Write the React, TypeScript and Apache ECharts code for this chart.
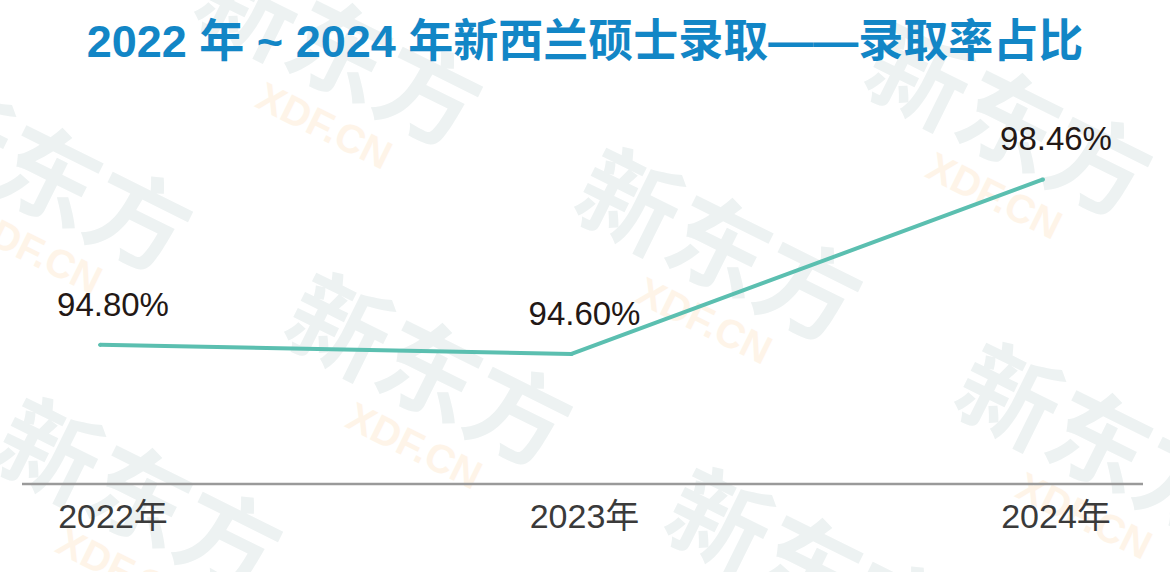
import React, { useEffect, useRef } from "react";
import * as echarts from "echarts";

const titleText = "2022 年 ~ 2024 年新西兰硕士录取——录取率占比";
const categories = ["2022年", "2023年", "2024年"];
const admitRate = [94.8, 94.6, 98.46];
const watermarkCenters: [number, number][] = [
  [722, 240], [432, 365], [142, 490], [1012, 115],
  [1102, 435], [812, 560], [342, 45], [52, 170],
];

export default function App() {
  const ref = useRef<HTMLDivElement>(null);
  useEffect(() => {
    document.body.style.margin = "0";
    const chart = echarts.init(ref.current!, null, { renderer: "svg" });
    const watermarks = watermarkCenters.map(([x, y]) => ({
      type: "group",
      x,
      y,
      rotation: -0.46,
      z: -10,
      silent: true,
      children: [
        {
          type: "text",
          x: 0,
          y: 0,
          z: -10,
          style: {
            text: "新东方",
            fill: "#edf2f2",
            font: "bold 100px 'Noto Sans CJK SC'",
            align: "center",
            verticalAlign: "middle",
          },
        },
        {
          type: "text",
          x: 20,
          y: 80,
          z: -10,
          style: {
            text: "XDF.CN",
            fill: "#fef4e8",
            font: "bold 40px 'Liberation Sans'",
            align: "center",
            verticalAlign: "middle",
          },
        },
      ],
    }));
    chart.setOption({
      animation: false,
      backgroundColor: "#ffffff",
      title: {
        text: titleText,
        left: "center",
        top: 14,
        textStyle: {
          color: "#1286c6",
          fontSize: 45,
          fontWeight: "bold",
          fontFamily: "'Liberation Sans', 'Noto Sans CJK SC'",
        },
      },
      grid: { left: 100, right: 127, top: 155, bottom: 87, containLabel: false },
      xAxis: {
        type: "category",
        data: categories,
        boundaryGap: false,
        axisLine: { show: false },
        axisTick: { show: false },
        axisLabel: {
          color: "#3a3a3a",
          fontSize: 34,
          fontFamily: "'Liberation Sans', 'Noto Sans CJK SC'",
          margin: 14,
          padding: [0, 0, 0, 26],
        },
      },
      yAxis: {
        type: "value",
        min: 91.7,
        max: 99,
        show: false,
        splitLine: { show: false },
      },
      graphic: [
        ...watermarks,
        {
          type: "line",
          z: 5,
          shape: { x1: 22, y1: 484, x2: 1143, y2: 484 },
          style: { stroke: "#9a9a9a", lineWidth: 2.5 },
        },
      ],
      series: [
        {
          type: "line",
          data: admitRate,
          showSymbol: true,
          symbol: "circle",
          symbolSize: 4,
          itemStyle: { color: "#5bbfb0", borderWidth: 0 },
          lineStyle: { color: "#5bbfb0", width: 4 },
          z: 10,
          label: {
            show: true,
            position: "top",
            distance: 22,
            offset: [13, 0],
            color: "#231815",
            fontSize: 33,
            fontFamily: "'Liberation Sans'",
            formatter: (p: any) => p.value.toFixed(2) + "%",
          },
        },
      ],
    });
    return () => chart.dispose();
  }, []);
  return <div ref={ref} style={{ width: 1170, height: 572 }} />;
}
